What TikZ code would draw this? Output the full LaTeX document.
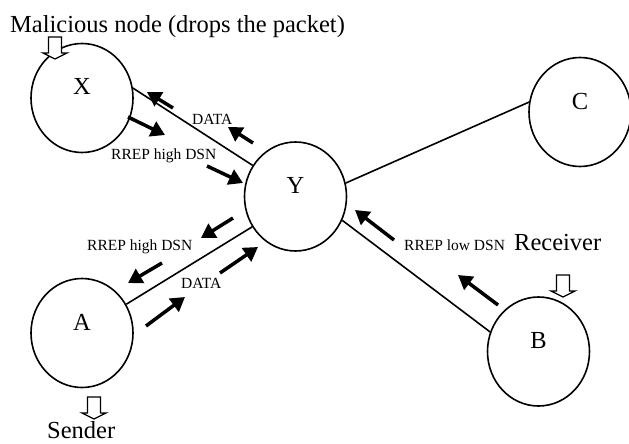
\documentclass[tikz,border=0pt]{standalone}
\usepackage{fontspec}
\setmainfont{Liberation Serif}
\usetikzlibrary{arrows.meta,shapes.geometric}
\begin{document}
\begin{tikzpicture}[x=1pt,y=-1pt,
  station/.style={ellipse,draw,line width=1.6pt,minimum width=102pt,minimum height=109pt,inner sep=0pt,font=\fontsize{24.5}{28}\selectfont},
  link/.style={line width=1.6pt},
  flow/.style={line width=3.5pt,-{Triangle[length=14pt,width=16pt]}},
  big/.style={inner sep=0pt,font=\fontsize{24.5}{28}\selectfont,anchor=base west},
  small/.style={inner sep=0pt,font=\fontsize{15.5}{18}\selectfont,anchor=base west},
  hollow/.style={draw,line width=1.3pt,fill=white,line join=miter},
  downarrow/.pic={\path[hollow] (-6.5,0) -- (6.5,0) -- (6.5,16) -- (12,16) -- (0,22) -- (-12,16) -- (-6.5,16) -- cycle;}]
\useasboundingbox (0,0) rectangle (629,444);

% stations
\node[station] (X) at (82,98) {\raisebox{3pt}[0pt][0pt]{X}};
\node[station] (Y) at (295.5,196.5) {\raisebox{3pt}[0pt][0pt]{Y}};
\node[station] (A) at (82,333) {\raisebox{3pt}[0pt][0pt]{A}};
\node[station] (B) at (538.5,351.5) {\raisebox{3pt}[0pt][0pt]{B}};
\node[station] (C) at (580,112) {\raisebox{3pt}[0pt][0pt]{C}};

% links
\draw[link] (X.11) -- (Y.144);
\draw[link] (Y.15) -- (C.169);
\draw[link] (A.33) -- (Y.215);
\draw[link] (Y.333) -- (B.158);

% message arrows
\coordinate (f1s) at (173,108); \coordinate (f1e) at (147,92);
\coordinate (f2s) at (128,117); \coordinate (f2e) at (165,135);
\coordinate (f3s) at (253,143); \coordinate (f3e) at (228,127);
\coordinate (f4s) at (207,166); \coordinate (f4e) at (243,183);
\coordinate (f5s) at (233,218); \coordinate (f5e) at (201,238);
\coordinate (f6s) at (162,263); \coordinate (f6e) at (128,283);
\coordinate (f7s) at (220,273); \coordinate (f7e) at (258,247);
\coordinate (f8s) at (146,326); \coordinate (f8e) at (185,297);
\coordinate (f9s) at (394,240); \coordinate (f9e) at (355,210);
\coordinate (f10s) at (498,305); \coordinate (f10e) at (458,275);
\foreach \i in {1,...,10} \draw[flow] (f\i s) -- (f\i e);

% labels
\node[big] (lmal) at (10,33) {Malicious node (drops the packet)};
\node[big] (lsnd) at (47,438) {Sender};
\node[big] (lrcv) at (514,250) {Receiver};
\node[small] (ld1) at (192,124) {DATA};
\node[small] (lr1) at (111,159) {RREP high DSN};
\node[small] (lr2) at (87,250) {RREP high DSN};
\node[small] (ld2) at (181,288) {DATA};
\node[small] (lr3) at (404,250) {RREP low DSN};

% hollow pointers
\pic at (55,37) {downarrow};
\pic at (94,397) {downarrow};
\pic at (563,275) {downarrow};
\end{tikzpicture}
\end{document}
